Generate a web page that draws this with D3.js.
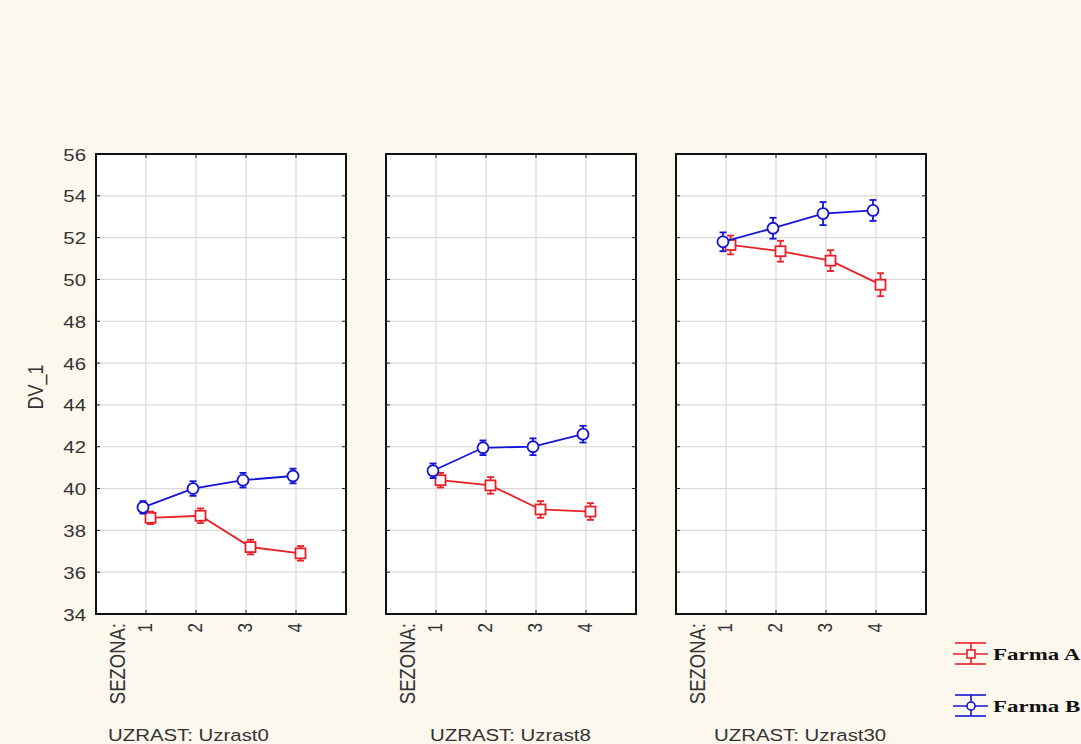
<!DOCTYPE html>
<meta charset="utf-8">
<style>
  body { margin: 0; background: #fcf8ee; }
  svg { display: block; background: #fcf8ee; }
  .grid line { stroke: #d9d9d9; stroke-width: 1.2px; }
  .lbl { font-family: Arial, "Liberation Sans", sans-serif; fill: #333; }
</style>
<svg width="1081" height="744"></svg>
<script src="https://d3js.org/d3.v7.min.js"></script>
<script>
  var svg = d3.select("svg");

  // data
  var seasons = [1, 2, 3, 4];
  var groups = ["Uzrast0", "Uzrast8", "Uzrast30"];
  var farmaA = [
    [38.6, 38.7, 37.2, 36.9],
    [40.4, 40.15, 39.0, 38.9],
    [51.65, 51.35, 50.9, 49.75]
  ];
  var farmaB = [
    [39.1, 40.0, 40.4, 40.6],
    [40.85, 41.95, 42.0, 42.6],
    [51.8, 52.45, 53.15, 53.3]
  ];
  var errA = [
    [0.3, 0.35, 0.35, 0.35],
    [0.35, 0.4, 0.4, 0.4],
    [0.45, 0.5, 0.5, 0.55]
  ];
  var errB = [
    [0.3, 0.35, 0.35, 0.35],
    [0.35, 0.35, 0.4, 0.4],
    [0.45, 0.5, 0.55, 0.5]
  ];
  var yTicks = d3.range(34, 57, 2);

  var panelX = [96, 386, 676],
    panelW = 250,
    plotTop = 154,
    plotBottom = 614,
    sx = 1.2; // text in the original is stretched sideways

  var y = d3.scaleLinear().domain([34, 56]).range([plotBottom, plotTop]);

  var series = [
    { name: "Farma A", color: "#e8202a", values: farmaA, err: errA, shift: 4.5, shape: "square" },
    { name: "Farma B", color: "#1414d6", values: farmaB, err: errB, shift: -3, shape: "circle" }
  ];

  function label(x, y, rot, anchor, size, txt) {
    return svg.append("text")
      .attr("class", "lbl")
      .attr("transform", "translate(" + x + "," + y + ") scale(" + sx + ",1)" + (rot ? " rotate(" + rot + ")" : ""))
      .attr("text-anchor", anchor)
      .style("font-size", size + "px")
      .text(txt);
  }

  groups.forEach(function(gname, gi) {
    var x = d3.scaleLinear().domain([0, 5]).range([panelX[gi], panelX[gi] + panelW]);
    var g = svg.append("g");

    g.append("rect")
      .attr("x", panelX[gi]).attr("y", plotTop)
      .attr("width", panelW).attr("height", plotBottom - plotTop)
      .attr("fill", "#fff");

    var grid = g.append("g").attr("class", "grid");
    grid.selectAll("line.h").data(yTicks.slice(1, -1)).enter().append("line")
      .attr("x1", panelX[gi]).attr("x2", panelX[gi] + panelW)
      .attr("y1", function(d) { return y(d); })
      .attr("y2", function(d) { return y(d); });
    grid.selectAll("line.v").data(seasons).enter().append("line")
      .attr("x1", function(d) { return x(d); })
      .attr("x2", function(d) { return x(d); })
      .attr("y1", plotTop).attr("y2", plotBottom);

    // small inner ticks on frame
    var tk = g.append("g").attr("stroke", "#222").attr("stroke-width", 1);
    yTicks.forEach(function(t) {
      tk.append("line").attr("x1", panelX[gi]).attr("x2", panelX[gi] + 4).attr("y1", y(t)).attr("y2", y(t));
      tk.append("line").attr("x1", panelX[gi] + panelW - 4).attr("x2", panelX[gi] + panelW).attr("y1", y(t)).attr("y2", y(t));
    });
    seasons.forEach(function(s) {
      tk.append("line").attr("x1", x(s)).attr("x2", x(s)).attr("y1", plotTop).attr("y2", plotTop + 4);
      tk.append("line").attr("x1", x(s)).attr("x2", x(s)).attr("y1", plotBottom - 4).attr("y2", plotBottom);
    });

    series.forEach(function(s) {
      var pts = seasons.map(function(se, i) {
        return { x: x(se) + s.shift, v: s.values[gi][i], e: s.err[gi][i] };
      });
      var sg = g.append("g").attr("stroke", s.color).attr("fill", "none").attr("stroke-width", 1.8);
      sg.append("path")
        .attr("d", d3.line().x(function(d) { return d.x; }).y(function(d) { return y(d.v); })(pts));
      pts.forEach(function(p) {
        sg.append("line").attr("x1", p.x).attr("x2", p.x).attr("y1", y(p.v - p.e)).attr("y2", y(p.v + p.e));
        sg.append("line").attr("x1", p.x - 3.5).attr("x2", p.x + 3.5).attr("y1", y(p.v - p.e)).attr("y2", y(p.v - p.e));
        sg.append("line").attr("x1", p.x - 3.5).attr("x2", p.x + 3.5).attr("y1", y(p.v + p.e)).attr("y2", y(p.v + p.e));
        if (s.shape === "square") {
          sg.append("rect").attr("x", p.x - 5).attr("y", y(p.v) - 5).attr("width", 10).attr("height", 10).attr("fill", "#fff");
        } else {
          sg.append("circle").attr("cx", p.x).attr("cy", y(p.v)).attr("r", 5.5).attr("fill", "#fff");
        }
      });
    });

    g.append("rect")
      .attr("x", panelX[gi]).attr("y", plotTop)
      .attr("width", panelW).attr("height", plotBottom - plotTop)
      .attr("fill", "none").attr("stroke", "#111").attr("stroke-width", 2);

    // season tick labels (rotated)
    seasons.forEach(function(s) {
      label(x(s) + 6, plotBottom + 9, -90, "end", 17, s);
    });
    label(x(0.45) + 6, plotBottom + 9, -90, "end", 18.5, "SEZONA:");

    label(panelX[gi] + [12, 44, 38][gi], 741, 0, "start", 17, "UZRAST: " + gname);
  });

  // y axis on first panel
  var yAxis = d3.axisLeft(y).tickValues(yTicks).tickSize(0).tickPadding(10);
  var ax = svg.append("g")
    .attr("transform", "translate(" + panelX[0] + ",0)")
    .call(yAxis);
  ax.select(".domain").remove();
  ax.selectAll(".tick text")
    .attr("class", "lbl")
    .attr("x", null)
    .attr("dy", null)
    .attr("transform", "translate(-10,6) scale(" + sx + ",1)")
    .style("font-size", "17px");

  label(43, 387, -90, "middle", 18, "DV_1");

  // legend
  series.forEach(function(s, i) {
    var ly = [654, 706][i], lx = 953;
    var lg = svg.append("g").attr("stroke", s.color).attr("stroke-width", 1.6).attr("fill", "none");
    lg.append("line").attr("x1", lx).attr("x2", lx + 35).attr("y1", ly).attr("y2", ly);
    lg.append("line").attr("x1", lx + 2).attr("x2", lx + 33).attr("y1", ly - 11).attr("y2", ly - 11);
    lg.append("line").attr("x1", lx + 2).attr("x2", lx + 33).attr("y1", ly + 10).attr("y2", ly + 10);
    lg.append("line").attr("x1", lx + 18).attr("x2", lx + 18).attr("y1", ly - 11).attr("y2", ly + 10);
    if (s.shape === "square") {
      lg.append("rect").attr("x", lx + 14).attr("y", ly - 4).attr("width", 8).attr("height", 8).attr("fill", "#fff");
    } else {
      lg.append("circle").attr("cx", lx + 18).attr("cy", ly).attr("r", 4).attr("fill", "#fff");
    }
    svg.append("text")
      .attr("transform", "translate(" + (lx + 40) + "," + (ly + 6) + ") scale(1.35,1)")
      .style("font-family", "'Liberation Serif', 'Times New Roman', serif")
      .style("font-weight", "bold").style("font-size", "17px").style("fill", "#111")
      .text(s.name);
  });
</script>
